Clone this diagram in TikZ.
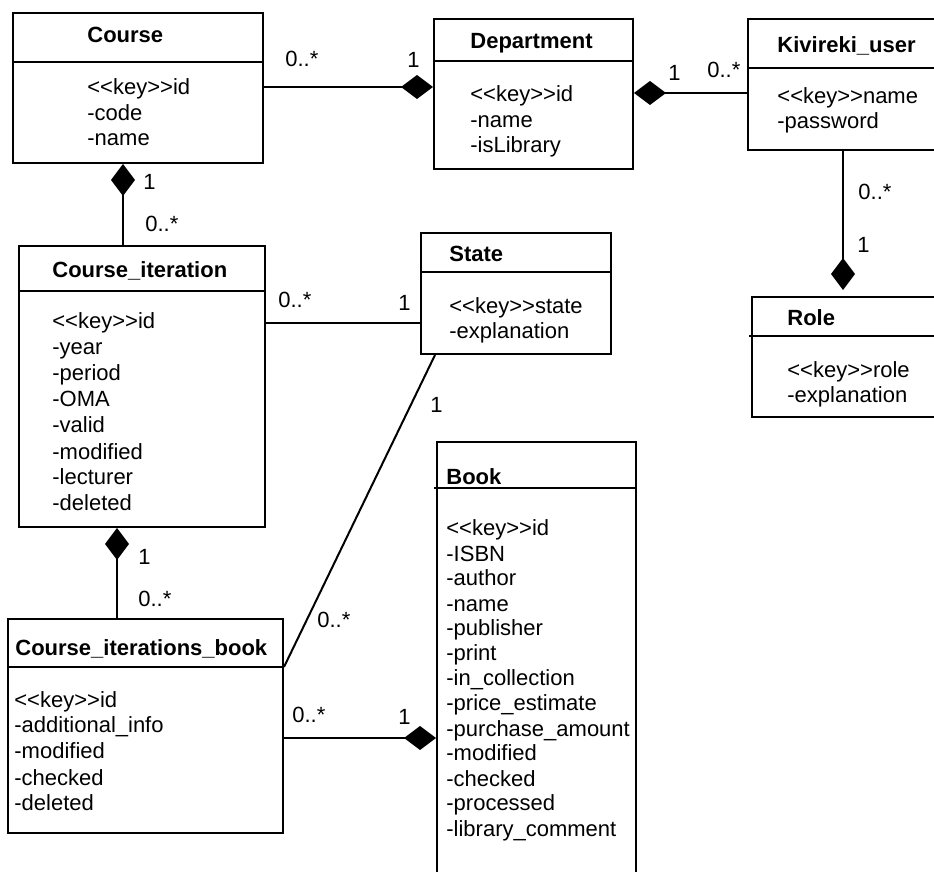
\documentclass[tikz,border=0pt]{standalone}
\usepackage{fontspec}
\setmainfont{Liberation Sans}[Ligatures=TeXOff]
\usetikzlibrary{arrows.meta,fit}
\tikzset{
  box/.style={draw, line width=1pt, inner sep=0pt},
  divline/.style={line width=1pt},
  conn/.style={line width=1pt},
  comp/.style={-{Diamond[length=16pt,width=12pt]}},
  cls/.style={font=\fontsize{11}{13}\selectfont\bfseries, anchor=base west, inner sep=0pt},
  attr/.style={font=\fontsize{11}{13}\selectfont, anchor=base west, inner sep=0pt},
  mult/.style={font=\fontsize{11}{13}\selectfont, anchor=base west, inner sep=0pt},
}
\newcommand\umlattrs[5]{\foreach \t [count=\i] in {#5} {\node[attr] (#4\i) at (#1,{#2+#3*(\i-1)}) {\t};}}
\begin{document}
\begin{tikzpicture}[x=0.5pt,y=-0.5pt]
\clip (0,0) rectangle (934,872);
\fill[white] (0,0) rectangle (934,872);

% ---------- class boxes ----------
\node[box, fit={(13,13)(263,163)}] (course) {};
\draw[divline] (course.west |- 0,62) -- (course.east |- 0,62);
\node[cls] (course-t) at (87,43) {Course};
\umlattrs{87}{95}{25.5}{course-a}{{<<key>>id},-code,-name}

\node[box, fit={(434,19)(633,169)}] (dept) {};
\draw[divline] (dept.west |- 0,61) -- (dept.east |- 0,61);
\node[cls] (dept-t) at (470,49) {Department};
\umlattrs{470}{102}{25.5}{dept-a}{{<<key>>id},-name,-isLibrary}

\node[box, fit={(748,19)(960,150)}] (kiv) {};
\draw[divline] (kiv.west |- 0,68) -- (kiv.east |- 0,68);
\node[cls] (kiv-t) at (777,53) {Kivireki\_user};
\umlattrs{777}{104}{25}{kiv-a}{{<<key>>name},-password}

\node[box, fit={(421,233)(611,354)}] (state) {};
\draw[divline] (state.west |- 0,272) -- (state.east |- 0,272);
\node[cls] (state-t) at (449,262) {State};
\umlattrs{449}{314}{25}{state-a}{{<<key>>state},-explanation}

\node[box, fit={(752,297)(960,417)}] (role) {};
\draw[divline] ([xshift=-1pt]role.west |- 0,336) -- (role.east |- 0,336);
\node[cls] (role-t) at (787,326) {Role};
\umlattrs{787}{378}{25}{role-a}{{<<key>>role},-explanation}

\node[box, fit={(19,246)(265,527)}] (ci) {};
\draw[divline] (ci.west |- 0,291) -- (ci.east |- 0,291);
\node[cls] (ci-t) at (52,278) {Course\_iteration};
\umlattrs{52}{329}{26}{ci-a}{{<<key>>id},-year,-period,-OMA,-valid,-modified,-lecturer,-deleted}

\node[box, fit={(8,619)(283,833)}] (cib) {};
\draw[divline] (cib.west |- 0,667) -- (cib.east |- 0,667);
\node[cls] (cib-t) at (15,655) {Course\_iterations\_book};
\umlattrs{14}{707}{26}{cib-a}{{<<key>>id},-additional\_info,-modified,-checked,-deleted}

\node[box, fit={(437,442)(636,900)}] (book) {};
\draw[divline] ([xshift=-1pt]book.west |- 0,488) -- (book.east |- 0,488);
\node[cls] (book-t) at (446,485) {Book};
\umlattrs{446}{536}{25}{book-a}{{<<key>>id},-ISBN,-author,-name,-publisher,-print,-in\_collection,-price\_estimate,-purchase\_amount,-modified,-checked,-processed,-library\_comment}

% ---------- connectors ----------
\draw[conn, comp] (course.east |- 0,87) -- (dept.west |- 0,87);
\node[mult] (m1a) at (285,67) {0..*};
\node[mult] (m1b) at (407,68) {1};

\draw[conn, comp] (kiv.west |- 0,93) -- (dept.east |- 0,93);
\node[mult] (m2a) at (668,81) {1};
\node[mult] (m2b) at (707,78) {0..*};

\draw[conn, comp, shorten >=3pt] (kiv.south -| 843,0) -- (role.north -| 843,0);
\node[mult] (m3a) at (858,200) {0..*};
\node[mult] (m3b) at (857,253) {1};

\draw[conn, comp] (ci.north -| 123,0) -- (course.south -| 123,0);
\node[mult] (m4a) at (143,190) {1};
\node[mult] (m4b) at (145,232) {0..*};

\draw[conn] (ci.east |- 0,323) -- (state.west |- 0,323);
\node[mult] (m5a) at (278,308) {0..*};
\node[mult] (m5b) at (398,311) {1};

\draw[conn] (state.south -| 435,0) -- (cib.east |- 0,667);
\node[mult] (m6a) at (430,413) {1};
\node[mult] (m6b) at (317,627) {0..*};

\draw[conn, comp] (cib.north -| 117,0) -- (ci.south -| 117,0);
\node[mult] (m7a) at (138,565) {1};
\node[mult] (m7b) at (138,607) {0..*};

\draw[conn, comp] (cib.east |- 0,738) -- (book.west |- 0,738);
\node[mult] (m8a) at (292,722) {0..*};
\node[mult] (m8b) at (398,725) {1};
\end{tikzpicture}
\end{document}
